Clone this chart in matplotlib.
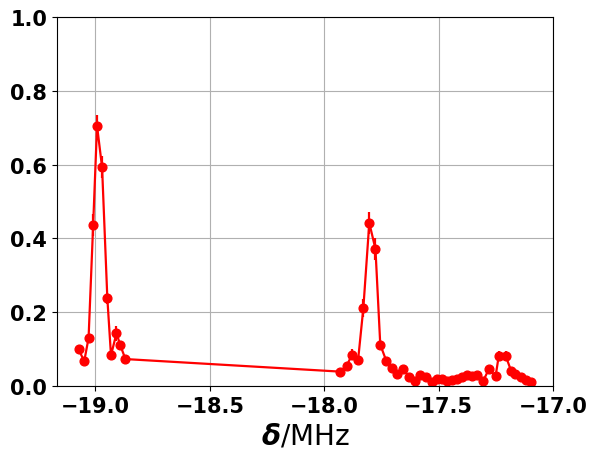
import matplotlib.pyplot as plt

# detuning (MHz), signal and error
delta = [-19.074, -19.049, -19.030, -19.010, -18.993, -18.971, -18.948, -18.932,
         -18.908, -18.891, -18.869,
         -17.931, -17.902, -17.878, -17.852, -17.829, -17.803, -17.776, -17.755,
         -17.728, -17.703, -17.680, -17.654, -17.629, -17.603, -17.580, -17.553,
         -17.527, -17.506, -17.484, -17.462, -17.440, -17.418, -17.397, -17.377,
         -17.353, -17.331, -17.305, -17.280, -17.251, -17.237, -17.207, -17.183,
         -17.164, -17.142, -17.120, -17.098]
signal = [0.100, 0.067, 0.130, 0.436, 0.705, 0.593, 0.238, 0.083,
          0.143, 0.110, 0.073,
          0.039, 0.055, 0.085, 0.070, 0.211, 0.442, 0.371, 0.112,
          0.067, 0.049, 0.033, 0.046, 0.024, 0.014, 0.030, 0.024,
          0.010, 0.018, 0.019, 0.014, 0.015, 0.019, 0.024, 0.030,
          0.028, 0.030, 0.014, 0.046, 0.026, 0.082, 0.082, 0.041,
          0.033, 0.024, 0.017, 0.010]
err = [0.012, 0.010, 0.012, 0.030, 0.030, 0.030, 0.015, 0.010,
       0.020, 0.012, 0.008,
       0.006, 0.008, 0.015, 0.010, 0.025, 0.030, 0.030, 0.012,
       0.008, 0.006, 0.005, 0.006, 0.005, 0.004, 0.005, 0.005,
       0.004, 0.004, 0.004, 0.004, 0.004, 0.004, 0.005, 0.005,
       0.005, 0.005, 0.004, 0.006, 0.005, 0.012, 0.012, 0.006,
       0.005, 0.005, 0.004, 0.004]

fig = plt.figure(figsize=(5.97, 4.60), dpi=100)
ax = fig.add_axes([57/597, 73/460, 496/597, 369/460])

ax.errorbar(delta, signal, yerr=err, color='red', ecolor='red',
            marker='o', markersize=6.3, linewidth=1.6, elinewidth=1.6, capsize=0)

ax.set_xlim(-19.168, -17.0)
ax.set_ylim(0, 1.0)
ax.set_xticks([-19.0, -18.5, -18.0, -17.5, -17.0])
ax.set_yticks([0.0, 0.2, 0.4, 0.6, 0.8, 1.0])
ax.grid(True)

for lbl in ax.get_xticklabels() + ax.get_yticklabels():
    lbl.set_fontsize(15)
    lbl.set_fontweight('bold')

ax.set_xlabel(r'$\boldsymbol{\delta}$/MHz', fontsize=20)

plt.savefig('out.png', dpi=100)
